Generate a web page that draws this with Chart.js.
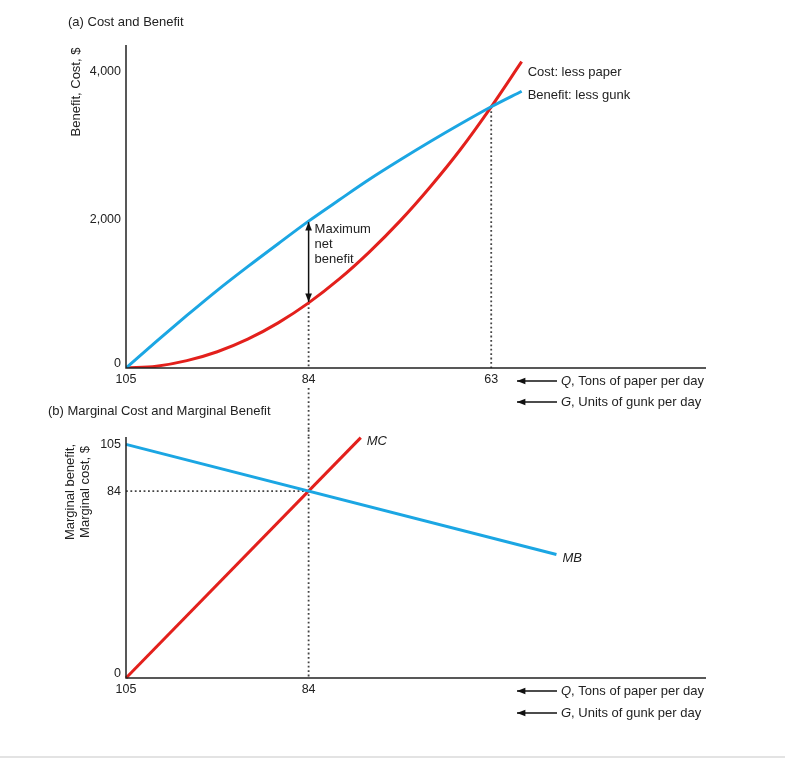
<!DOCTYPE html>
<html>
<head>
<meta charset="utf-8">
<script src="https://cdn.jsdelivr.net/npm/chart.js@4"></script>
<style>
  body { margin: 0; background: #fff; }
  #wrap { position: relative; width: 785px; height: 762px; }
  canvas { position: absolute; left: 0; }
  #topChart { top: 0; }
  #botChart { top: 430px; }
  #rule { position: absolute; left: 0; top: 756px; width: 785px; height: 2px; background: #e3e3e3; }
</style>
</head>
<body>
<div id="wrap">
  <canvas id="topChart" width="785" height="430" style="width:785px;height:430px"></canvas>
  <canvas id="botChart" width="785" height="332" style="width:785px;height:332px"></canvas>
  <div id="rule"></div>
</div>
<script>
// units of gunk removed (x)
let gunk = [0, 3.5, 7, 10.5, 14, 17.5, 21, 24.5, 28, 31.5, 35, 38.5, 42, 45.5];
let benefit = [0, 360, 710, 1050, 1370, 1680, 1985, 2270, 2550, 2810, 3060, 3300, 3530, 3740];
let cost = [0, 25, 100, 220, 390, 610, 880, 1200, 1570, 1985, 2450, 2960, 3530, 4140];
// panel (b) straight lines
let mbGunk = [0, 49.5];
let mbValues = [105, 55.5];
let mcGunk = [0, 27];
let mcValues = [0, 108];
// tick labels
let qTicks = [105, 84, 63];
let qTicksBottom = [105, 84];
let topYTicks = [0, 2000, 4000];
let botYTicks = [0, 84, 105];
// optimum and crossing points
let optG = 21;
let optMarginal = 84;
let crossG = 42;
let crossValue = 3530;

const FONT = '"Liberation Sans", Arial, Helvetica, sans-serif';
const TXT = "#222";
const BLUE = "#1ba6e3";
const RED = "#e3201c";
const DOT = "#444";

function toPts(xs, ys) {
  return xs.map((x, i) => ({ x: x, y: ys[i] }));
}

function arrowHead(ctx, x1, y1, x2, y2, size) {
  let a = Math.atan2(y2 - y1, x2 - x1);
  ctx.beginPath();
  ctx.moveTo(x2, y2);
  ctx.lineTo(x2 - size * Math.cos(a - 0.38), y2 - size * Math.sin(a - 0.38));
  ctx.lineTo(x2 - size * Math.cos(a + 0.38), y2 - size * Math.sin(a + 0.38));
  ctx.closePath();
  ctx.fill();
}

function arrow(ctx, x1, y1, x2, y2) {
  ctx.beginPath();
  ctx.moveTo(x1, y1);
  ctx.lineTo(x2, y2);
  ctx.stroke();
  arrowHead(ctx, x1, y1, x2, y2, 9);
}

// italic letter + rest of label, with a left-pointing arrow before it
function axisNote(ctx, y, letter, rest) {
  ctx.strokeStyle = "#111";
  ctx.fillStyle = "#111";
  ctx.lineWidth = 1.6;
  arrow(ctx, 557, y, 517, y);
  ctx.textAlign = "left";
  ctx.textBaseline = "middle";
  ctx.fillStyle = TXT;
  ctx.font = "italic 13px " + FONT;
  ctx.fillText(letter, 561, y);
  let w = ctx.measureText(letter).width;
  ctx.font = "13px " + FONT;
  ctx.fillText(rest, 561 + w, y);
}

function drawAxes(ctx, area) {
  ctx.save();
  ctx.strokeStyle = "#222";
  ctx.lineWidth = 1.5;
  ctx.beginPath();
  ctx.moveTo(area.left, area.top);
  ctx.lineTo(area.left, area.bottom);
  ctx.lineTo(area.right, area.bottom);
  ctx.stroke();
  ctx.restore();
}

function dottedSeg(ctx, x, y1, y2) {
  ctx.save();
  ctx.strokeStyle = DOT;
  ctx.lineWidth = 1.8;
  ctx.setLineDash([1.8, 2.6]);
  ctx.beginPath();
  ctx.moveTo(x, y1);
  ctx.lineTo(x, y2);
  ctx.stroke();
  ctx.restore();
}

const topExtras = {
  id: "topExtras",
  afterDatasetsDraw(chart) {
    let ctx = chart.ctx;
    let a = chart.chartArea;
    let xs = chart.scales.x;
    let ys = chart.scales.y;
    drawAxes(ctx, a);
    ctx.save();
    ctx.fillStyle = TXT;
    ctx.font = "12.5px " + FONT;
    // y ticks
    ctx.textAlign = "right";
    ctx.textBaseline = "middle";
    topYTicks.forEach((v) => {
      let y = ys.getPixelForValue(v);
      if (v === 0) y -= 4;
      ctx.fillText(v.toLocaleString("en-US"), a.left - 5, y);
    });
    // x ticks (Q)
    ctx.textAlign = "center";
    qTicks.forEach((q) => {
      let x = xs.getPixelForValue(105 - q);
      ctx.fillText(String(q), x, a.bottom + 12);
    });
    ctx.restore();
    ctx.save();
    axisNote(ctx, a.bottom + 13, "Q", ", Tons of paper per day");
    axisNote(ctx, a.bottom + 34, "G", ", Units of gunk per day");
    ctx.restore();

    ctx.save();
    ctx.fillStyle = TXT;
    ctx.font = "13px " + FONT;
    ctx.textAlign = "left";
    ctx.textBaseline = "middle";
    ctx.fillText("(a) Cost and Benefit", 68, 22);
    ctx.fillText("(b) Marginal Cost and Marginal Benefit", 48, 411);
    // curve labels
    let endG = gunk[gunk.length - 1];
    ctx.fillText("Cost: less paper", xs.getPixelForValue(endG) + 6, ys.getPixelForValue(cost[cost.length - 1]) + 11);
    ctx.fillText("Benefit: less gunk", xs.getPixelForValue(endG) + 6, ys.getPixelForValue(benefit[benefit.length - 1]) + 4);
    // max net benefit arrow
    let ox = xs.getPixelForValue(optG);
    let yb = ys.getPixelForValue(benefit[gunk.indexOf(optG)]);
    let yc = ys.getPixelForValue(cost[gunk.indexOf(optG)]);
    ctx.strokeStyle = "#111";
    ctx.fillStyle = "#111";
    ctx.lineWidth = 1.5;
    arrow(ctx, ox, (yb + yc) / 2, ox, yb + 1);
    arrow(ctx, ox, (yb + yc) / 2, ox, yc - 1);
    ctx.fillStyle = TXT;
    ctx.fillText("Maximum", ox + 6, yb + 8);
    ctx.fillText("net", ox + 6, yb + 23);
    ctx.fillText("benefit", ox + 6, yb + 38);
    // y axis title
    ctx.translate(76, 92);
    ctx.rotate(-Math.PI / 2);
    ctx.textAlign = "center";
    ctx.fillText("Benefit, Cost, $", 0, 0);
    ctx.restore();
    // dotted line continues between the panels
    dottedSeg(ctx, xs.getPixelForValue(optG), a.bottom + 20, chart.height);
  }
};

const botExtras = {
  id: "botExtras",
  afterDatasetsDraw(chart) {
    let ctx = chart.ctx;
    let a = chart.chartArea;
    let xs = chart.scales.x;
    let ys = chart.scales.y;
    drawAxes(ctx, a);
    dottedSeg(ctx, xs.getPixelForValue(optG), 0, a.top);
    ctx.save();
    ctx.fillStyle = TXT;
    ctx.font = "12.5px " + FONT;
    ctx.textAlign = "right";
    ctx.textBaseline = "middle";
    botYTicks.forEach((v) => {
      let y = ys.getPixelForValue(v);
      if (v === 0) y -= 4;
      ctx.fillText(String(v), a.left - 5, y);
    });
    ctx.textAlign = "center";
    qTicksBottom.forEach((q) => {
      ctx.fillText(String(q), xs.getPixelForValue(105 - q), a.bottom + 12);
    });
    ctx.restore();
    ctx.save();
    axisNote(ctx, a.bottom + 13, "Q", ", Tons of paper per day");
    axisNote(ctx, a.bottom + 35, "G", ", Units of gunk per day");
    ctx.restore();
    ctx.save();
    ctx.fillStyle = TXT;
    ctx.font = "italic 13px " + FONT;
    ctx.textAlign = "left";
    ctx.textBaseline = "middle";
    ctx.fillText("MC", xs.getPixelForValue(mcGunk[1]) + 6, ys.getPixelForValue(mcValues[1]) + 4);
    ctx.fillText("MB", xs.getPixelForValue(mbGunk[1]) + 6, ys.getPixelForValue(mbValues[1]) + 4);
    ctx.font = "13px " + FONT;
    ctx.translate(70, 62);
    ctx.rotate(-Math.PI / 2);
    ctx.textAlign = "center";
    ctx.fillText("Marginal benefit,", 0, 0);
    ctx.fillText("Marginal cost, $", 0, 15);
    ctx.restore();
  }
};

const dotted = {
  borderColor: DOT,
  borderWidth: 1.8,
  borderDash: [1.8, 2.6],
  pointRadius: 0,
  fill: false,
  order: 3
};

new Chart(document.getElementById("topChart"), {
  type: "line",
  data: {
    datasets: [
      { data: toPts(gunk, benefit), borderColor: BLUE, borderWidth: 3, pointRadius: 0, cubicInterpolationMode: "monotone", order: 1 },
      { data: toPts(gunk, cost), borderColor: RED, borderWidth: 3, pointRadius: 0, cubicInterpolationMode: "monotone", order: 1 },
      Object.assign({ data: [{ x: optG, y: cost[gunk.indexOf(optG)] }, { x: optG, y: 0 }] }, dotted),
      Object.assign({ data: [{ x: crossG, y: crossValue }, { x: crossG, y: 0 }] }, dotted)
    ]
  },
  options: {
    responsive: false,
    animation: false,
    layout: { padding: { left: 126, right: 79, top: 45, bottom: 62 } },
    scales: {
      x: { type: "linear", min: 0, max: 66.7, display: false },
      y: { min: 0, max: 4365, display: false }
    },
    plugins: { legend: { display: false }, tooltip: { enabled: false } }
  },
  plugins: [topExtras]
});

new Chart(document.getElementById("botChart"), {
  type: "line",
  data: {
    datasets: [
      { data: toPts(mbGunk, mbValues), borderColor: BLUE, borderWidth: 3, pointRadius: 0, order: 1, clip: false },
      { data: toPts(mcGunk, mcValues), borderColor: RED, borderWidth: 3, pointRadius: 0, order: 1, clip: false },
      Object.assign({ data: [{ x: 0, y: optMarginal }, { x: optG, y: optMarginal }] }, dotted),
      Object.assign({ data: [{ x: optG, y: 108.3 }, { x: optG, y: 0 }] }, dotted)
    ]
  },
  options: {
    responsive: false,
    animation: false,
    layout: { padding: { left: 126, right: 79, top: 7, bottom: 84 } },
    scales: {
      x: { type: "linear", min: 0, max: 66.7, display: false },
      y: { min: 0, max: 108.3, display: false }
    },
    plugins: { legend: { display: false }, tooltip: { enabled: false } }
  },
  plugins: [botExtras]
});
</script>
</body>
</html>
